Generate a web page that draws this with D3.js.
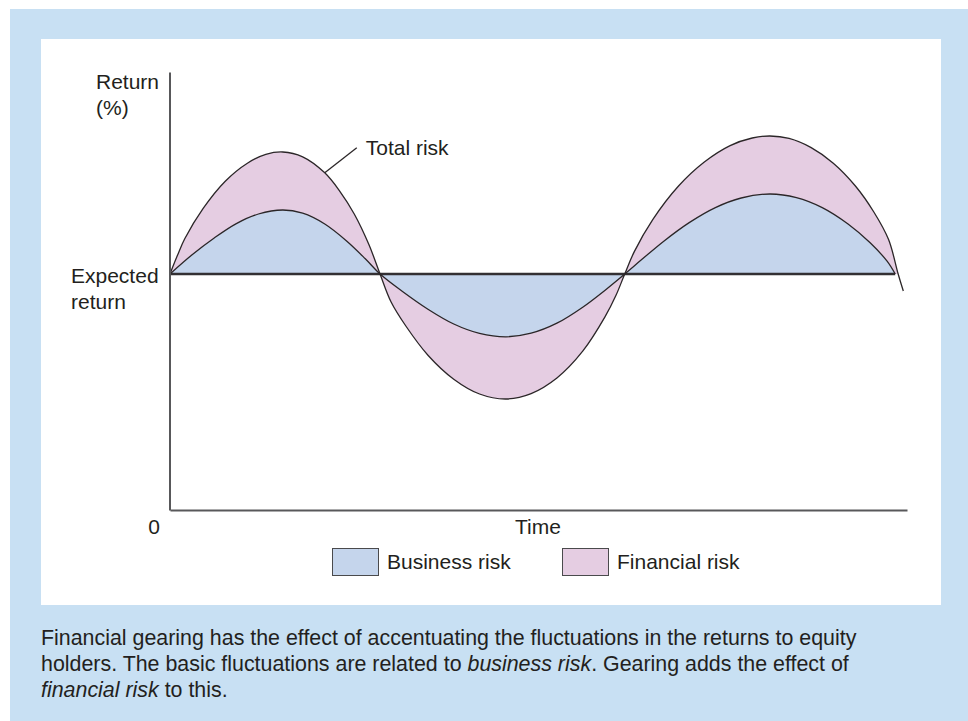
<!DOCTYPE html>
<html>
<head>
<meta charset="utf-8">
<script src="https://cdn.jsdelivr.net/npm/d3@7"></script>
<style>
  html, body { margin: 0; padding: 0; background: #ffffff; }
  svg { display: block; }
  text { font-family: "Liberation Sans", Arial, Helvetica, sans-serif; fill: #231f20; }
</style>
</head>
<body>
<svg id="chart" width="968" height="721"></svg>
<script>
// Business risk: return relative to the expected return over time
const businessTime   = [0, 3, 6, 9, 12, 15.3, 18, 21, 24, 26.5, 28.5, 31.5, 35, 38.5, 42, 45.6, 49, 52.5, 56, 59, 61.7, 64, 67, 70.5, 74, 77.5, 81.4, 85, 88.5, 92, 95, 97.3, 98.4];
const businessReturn = [0, 4.8, 9.0, 12.6, 15.0, 16.0, 15.2, 12.5, 8.2, 3.8, 0, -4.3, -8.8, -12.5, -14.85, -15.7, -14.8, -12.3, -8.3, -4.1, 0, 3.6, 8.2, 12.9, 16.6, 19.0, 20.0, 19.1, 16.6, 12.5, 7.8, 3.2, 0];

// Total risk (business + financial risk)
const totalTime   = [0, 1, 2, 4.5, 7.5, 10.5, 13, 15.3, 18, 21, 23, 25, 27, 28.5, 30, 32, 35, 38.5, 42, 45.6, 49, 52.5, 56, 59, 60.5, 61.7, 63, 65.5, 69, 72.5, 76, 79, 81.4, 84, 87, 90, 93, 95.5, 97.5, 98.8, 99.5];
const totalReturn = [0, 4.6, 8.8, 16.4, 23.2, 27.7, 29.9, 30.5, 29.3, 25.3, 20.8, 15.0, 7.3, 0, -7.0, -13.0, -20.3, -26.3, -30.0, -31.25, -29.9, -26.0, -19.3, -10.8, -5.4, 0, 5.6, 13.6, 22.0, 28.0, 32.1, 34.0, 34.5, 33.9, 31.6, 27.7, 22.0, 15.5, 8.6, 0, -4.25];

// Labels
const yAxisLabel = ["Return", "(%)"];
const baselineLabel = ["Expected", "return"];
const xAxisLabel = "Time";
const originLabel = "0";
const totalLabel = "Total risk";
const totalLabelTime = 21;      // where the leader line touches the total-risk curve
const legendItems = ["Business risk", "Financial risk"];
const captionLines = [
  [{t: "Financial gearing has the effect of accentuating the fluctuations in the returns to equity"}],
  [{t: "holders. The basic fluctuations are related to "}, {t: "business risk", i: true}, {t: ". Gearing adds the effect of"}],
  [{t: "financial risk", i: true}, {t: " to this."}]
];

const colors = {
  outer: "#c8e0f3",
  panel: "#ffffff",
  business: "#c5d5ec",
  financial: "#e5cde2",
  curve: "#2b2628",
  axis: "#58585a",
  baseline: "#333033"
};

const svg = d3.select("#chart");

// Frame: light blue box with a white chart panel
svg.append("rect").attr("x", 10).attr("y", 9).attr("width", 958).attr("height", 712).attr("fill", colors.outer);
svg.append("rect").attr("x", 41).attr("y", 39).attr("width", 900).attr("height", 566).attr("fill", colors.panel);

// Scales
const x = d3.scaleLinear().domain([0, 100]).range([170, 907]);
const y = d3.scaleLinear().domain([-59, 50.5]).range([510, 72]);

const business = businessTime.map((t, k) => ({t, v: businessReturn[k]}));
const total = totalTime.map((t, k) => ({t, v: totalReturn[k]}));

const curve = d3.curveCatmullRom.alpha(0.5);

// Financial risk fill (baseline to total curve); the business area is drawn on top
const lastCross = totalTime[totalReturn.length - 2];
svg.append("clipPath").attr("id", "fillClip")
  .append("rect").attr("x", x(0)).attr("y", y.range()[1])
  .attr("width", x(lastCross) - x(0)).attr("height", y.range()[0] - y.range()[1]);

const areaGen = d3.area().x(d => x(d.t)).y0(y(0)).y1(d => y(d.v)).curve(curve);
const lineGen = d3.line().x(d => x(d.t)).y(d => y(d.v)).curve(curve);

const plot = svg.append("g");
plot.append("path").datum(total).attr("d", areaGen)
  .attr("fill", colors.financial).attr("clip-path", "url(#fillClip)");
plot.append("path").datum(business).attr("d", areaGen)
  .attr("fill", colors.business);

// Expected return baseline
plot.append("line")
  .attr("x1", x(0)).attr("x2", x(businessTime[businessTime.length - 1]))
  .attr("y1", y(0)).attr("y2", y(0))
  .attr("stroke", colors.baseline).attr("stroke-width", 2.6);

// Curves
plot.append("path").datum(business).attr("d", lineGen)
  .attr("fill", "none").attr("stroke", colors.curve).attr("stroke-width", 1.3);
plot.append("path").datum(total).attr("d", lineGen)
  .attr("fill", "none").attr("stroke", colors.curve).attr("stroke-width", 1.3);

// Axes (lines only, no ticks)
const xAxis = svg.append("g").attr("transform", `translate(0,${y.range()[0]})`)
  .call(d3.axisBottom(x).tickValues([]).tickSizeOuter(0));
const yAxis = svg.append("g").attr("transform", `translate(${x(0) - 0.5},0)`)
  .call(d3.axisLeft(y).tickValues([]).tickSizeOuter(0));
[xAxis, yAxis].forEach(g => g.select(".domain").attr("stroke", colors.axis).attr("stroke-width", 2));

// Axis labels
const fs = 21;
svg.append("text").attr("x", 96).attr("y", 89).attr("font-size", fs).text(yAxisLabel[0]);
svg.append("text").attr("x", 96).attr("y", 115).attr("font-size", fs).text(yAxisLabel[1]);
svg.append("text").attr("x", 71).attr("y", y(0) + 9).attr("font-size", fs).text(baselineLabel[0]);
svg.append("text").attr("x", 71).attr("y", y(0) + 35).attr("font-size", fs).text(baselineLabel[1]);
svg.append("text").attr("x", x(0) - 16).attr("y", 534).attr("text-anchor", "middle").attr("font-size", fs).text(originLabel);
svg.append("text").attr("x", 538).attr("y", 534).attr("text-anchor", "middle").attr("font-size", fs).text(xAxisLabel);

// Total risk annotation with leader line
const tIdx = totalTime.indexOf(totalLabelTime);
const ax = x(totalLabelTime), ay = y(totalReturn[tIdx]);
svg.append("line").attr("x1", ax).attr("y1", ay).attr("x2", ax + 32).attr("y2", ay - 25)
  .attr("stroke", colors.curve).attr("stroke-width", 1.3);
svg.append("text").attr("x", ax + 41).attr("y", ay - 18).attr("font-size", fs).text(totalLabel);

// Legend
const legend = svg.append("g");
const legendX = [332, 562];
legendItems.forEach((name, k) => {
  legend.append("rect").attr("x", legendX[k] + 0.5).attr("y", 548.5).attr("width", 46).attr("height", 27)
    .attr("fill", k === 0 ? colors.business : colors.financial)
    .attr("stroke", "#4a4a4c").attr("stroke-width", 1);
  legend.append("text").attr("x", legendX[k] + 55).attr("y", 569).attr("font-size", fs).text(name);
});

// Caption
captionLines.forEach((parts, k) => {
  const t = svg.append("text").attr("x", 41).attr("y", 645 + k * 26).attr("font-size", 21.4);
  parts.forEach(p => t.append("tspan").attr("font-style", p.i ? "italic" : "normal").text(p.t));
});
</script>
</body>
</html>
